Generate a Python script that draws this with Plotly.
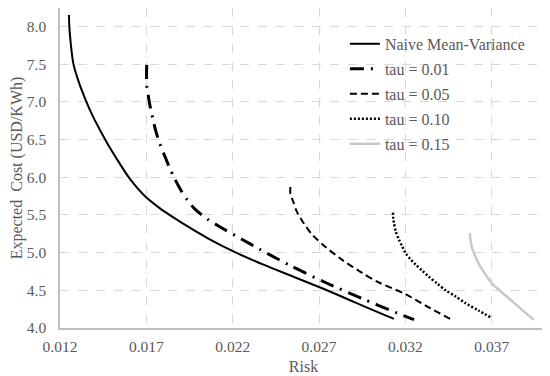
import plotly.graph_objects as go

naive_x = [0.01252, 0.01254, 0.01262, 0.01277, 0.01306, 0.01344, 0.01392, 0.01440, 0.01489, 0.01546,
           0.01604, 0.01691, 0.01777, 0.01854, 0.01951, 0.02056, 0.02210, 0.02378, 0.02552, 0.02725,
           0.02898, 0.03050, 0.03134]
naive_y = [8.15, 8.00, 7.78, 7.51, 7.28, 7.05, 6.80, 6.59, 6.39, 6.18,
           5.98, 5.75, 5.59, 5.47, 5.33, 5.19, 5.01, 4.84, 4.68, 4.52,
           4.35, 4.20, 4.12]

tau01_x = [0.01702, 0.01702, 0.01710, 0.01720, 0.01739, 0.01755, 0.01777, 0.01812, 0.01830, 0.01864,
           0.01902, 0.01937, 0.01980, 0.02056, 0.02120, 0.02250, 0.02360, 0.02540, 0.02740, 0.02950,
           0.03150, 0.03250]
tau01_y = [7.49, 7.22, 7.10, 6.96, 6.76, 6.61, 6.45, 6.25, 6.15, 5.98,
           5.82, 5.70, 5.58, 5.44, 5.35, 5.18, 5.04, 4.82, 4.60, 4.39,
           4.20, 4.11]

tau05_x = [0.02534, 0.02534, 0.02550, 0.02570, 0.02600, 0.02660, 0.02740, 0.02830, 0.02950, 0.03050,
           0.03200, 0.03330, 0.03469]
tau05_y = [5.87, 5.78, 5.68, 5.55, 5.43, 5.24, 5.07, 4.91, 4.73, 4.60,
           4.45, 4.28, 4.11]

tau10_x = [0.03128, 0.03130, 0.03134, 0.03144, 0.03163, 0.03182, 0.03202, 0.03231, 0.03260, 0.03298,
           0.03336, 0.03384, 0.03433, 0.03490, 0.03548, 0.03625, 0.03702]
tau10_y = [5.53, 5.45, 5.39, 5.28, 5.17, 5.08, 4.99, 4.91, 4.84, 4.76,
           4.68, 4.59, 4.50, 4.42, 4.33, 4.23, 4.13]

tau15_x = [0.03573, 0.03577, 0.03586, 0.03606, 0.03625, 0.03664, 0.03702, 0.03760, 0.03817, 0.03875,
           0.03943]
tau15_y = [5.26, 5.17, 5.06, 4.95, 4.85, 4.71, 4.59, 4.47, 4.36, 4.24,
           4.11]

names = ["Naive Mean-Variance", "tau = 0.01", "tau = 0.05", "tau = 0.10", "tau = 0.15"]
y_title = "Expected  Cost (USD/KWh)"

FONT = "Liberation Serif"
GREY = "#595959"

series = [
    (naive_x, naive_y, dict(color="black", width=2), 0.8),
    (tau01_x, tau01_y, dict(color="black", width=3, dash="14px,7px,2px,7px"), 0.8),
    (tau05_x, tau05_y, dict(color="black", width=2, dash="7px,4px"), 0.8),
    (tau10_x, tau10_y, dict(color="black", width=2.5, dash="2px,2px"), 0.8),
    (tau15_x, tau15_y, dict(color="#c8c8c8", width=2.5), 1.2),
]

fig = go.Figure()
for name, (xs, ys, ln, sm) in zip(names, series):
    fig.add_trace(go.Scatter(x=xs, y=ys, mode="lines", name=name, legendgroup=name,
                             line=dict(shape="spline", smoothing=sm, **ln)))

# page body has an 8px margin: figure sized/offset to land the plot where the reference has it
fig.update_layout(
    width=542, height=368,
    margin=dict(l=52, r=3, t=0, b=48),
    paper_bgcolor="white", plot_bgcolor="white",
    font=dict(family=FONT, color=GREY, size=15.5),
    showlegend=True,
    legend=dict(x=0.585, y=0.941, xanchor="left", yanchor="top", tracegroupgap=1.2,
                bgcolor="rgba(0,0,0,0)", font=dict(size=16, color=GREY, family=FONT)),
)
fig.update_xaxes(
    range=[0.012, 0.0402], tick0=0.012, dtick=0.005, tickformat=".3f",
    showgrid=True, gridcolor="#d9d9d9", griddash="dash", gridwidth=1,
    showline=True, linecolor="#bfbfbf", linewidth=1.5, zeroline=False, ticks="",
    automargin=False, ticklabelstandoff=4,
    title=dict(text="Risk", font=dict(size=16, color=GREY, family=FONT), standoff=6),
    tickfont=dict(size=15.5, color=GREY, family=FONT),
)
fig.update_yaxes(
    range=[4.0, 8.244], tick0=4.0, dtick=0.5, tickformat=".1f",
    showgrid=True, gridcolor="#d9d9d9", griddash="dash", gridwidth=1,
    showline=True, linecolor="#bfbfbf", linewidth=1.5, zeroline=False, ticks="",
    automargin=False, ticklabelstandoff=9,
    title=dict(text=y_title, font=dict(size=16, color=GREY, family=FONT), standoff=2),
    tickfont=dict(size=15.5, color=GREY, family=FONT),
)

fig.write_html("out.html")
